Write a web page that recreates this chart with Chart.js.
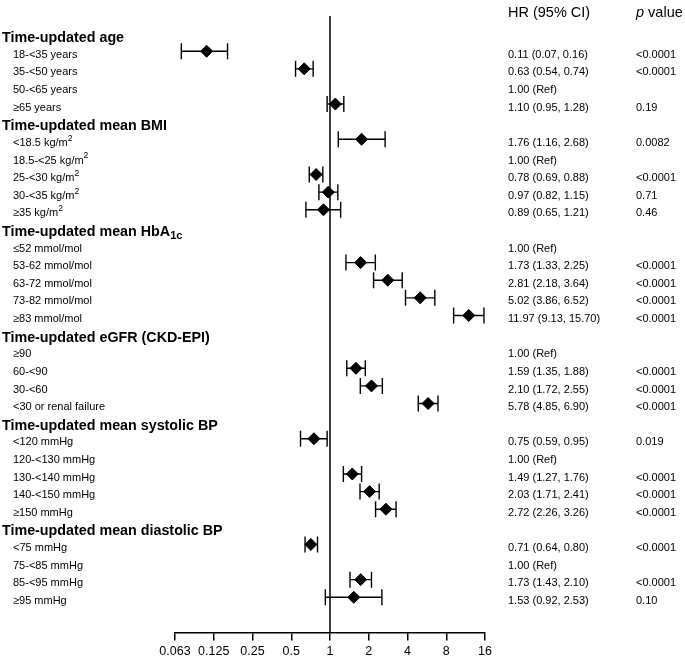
<!DOCTYPE html>
<html><head><meta charset="utf-8">
<script src="https://cdn.jsdelivr.net/npm/chart.js@4"></script>
<style>html,body{margin:0;padding:0;background:#fff}canvas{display:block}</style>
</head><body>
<canvas id="c" width="685" height="657"></canvas>
<script>
const groupTitles = ['Time-updated age', 'Time-updated mean BMI', 'Time-updated mean HbA_{1c}', 'Time-updated eGFR (CKD-EPI)', 'Time-updated mean systolic BP', 'Time-updated mean diastolic BP'];
const groupSizes = [4, 5, 5, 4, 5, 4];
const categories = ['18-<35 years', '35-<50 years', '50-<65 years', '≥65 years',
  '<18.5 kg/m^{2}', '18.5-<25 kg/m^{2}', '25-<30 kg/m^{2}', '30-<35 kg/m^{2}', '≥35 kg/m^{2}',
  '≤52 mmol/mol', '53-62 mmol/mol', '63-72 mmol/mol', '73-82 mmol/mol', '≥83 mmol/mol',
  '≥90', '60-<90', '30-<60', '<30 or renal failure',
  '<120 mmHg', '120-<130 mmHg', '130-<140 mmHg', '140-<150 mmHg', '≥150 mmHg',
  '<75 mmHg', '75-<85 mmHg', '85-<95 mmHg', '≥95 mmHg'];
const hr = [0.11, 0.63, 1.00, 1.10,
  1.76, 1.00, 0.78, 0.97, 0.89,
  1.00, 1.73, 2.81, 5.02, 11.97,
  1.00, 1.59, 2.10, 5.78,
  0.75, 1.00, 1.49, 2.03, 2.72,
  0.71, 1.00, 1.73, 1.53];
const ciLow = [0.07, 0.54, null, 0.95,
  1.16, null, 0.69, 0.82, 0.65,
  null, 1.33, 2.18, 3.86, 9.13,
  null, 1.35, 1.72, 4.85,
  0.59, null, 1.27, 1.71, 2.26,
  0.64, null, 1.43, 0.92];
const ciHigh = [0.16, 0.74, null, 1.28,
  2.68, null, 0.88, 1.15, 1.21,
  null, 2.25, 3.64, 6.52, 15.70,
  null, 1.88, 2.55, 6.90,
  0.95, null, 1.76, 2.41, 3.26,
  0.80, null, 2.10, 2.53];
const pValues = ['<0.0001', '<0.0001', '', '0.19',
  '0.0082', '', '<0.0001', '0.71', '0.46',
  '', '<0.0001', '<0.0001', '<0.0001', '<0.0001',
  '', '<0.0001', '<0.0001', '<0.0001',
  '0.019', '', '<0.0001', '<0.0001', '<0.0001',
  '<0.0001', '', '<0.0001', '0.10'];
const tickValues = [0.0625, 0.125, 0.25, 0.5, 1, 2, 4, 8, 16];
const tickLabels = ['0.063', '0.125', '0.25', '0.5', '1', '2', '4', '8', '16'];

const FONT = '"Liberation Sans", Arial, Helvetica, sans-serif';

// row layout: group header followed by its categories
const rows = [];
let k = 0;
groupTitles.forEach((g, gi) => {
  rows.push({ type: 'head', text: g });
  for (let j = 0; j < groupSizes[gi]; j++) { rows.push({ type: 'item', text: categories[k], idx: k }); k++; }
});

const pointData = [], barData = [];
rows.forEach((r, ri) => {
  if (r.type === 'item' && ciLow[r.idx] != null) {
    pointData.push({ x: hr[r.idx], y: ri });
    barData.push({ x: ciLow[r.idx], y: ri }, { x: ciHigh[r.idx], y: ri }, { x: 1, y: null });
  }
});
const hrText = i => ciLow[i] == null ? hr[i].toFixed(2) + ' (Ref)'
  : hr[i].toFixed(2) + ' (' + ciLow[i].toFixed(2) + ', ' + ciHigh[i].toFixed(2) + ')';

function drawRich(ctx, text, x, y, weight, size) {
  const parts = [];
  const re = /([_^])\{([^}]*)\}/g;
  let last = 0, m;
  while ((m = re.exec(text))) {
    if (m.index > last) parts.push({ t: text.slice(last, m.index), s: 0 });
    parts.push({ t: m[2], s: m[1] === '^' ? 1 : -1 });
    last = re.lastIndex;
  }
  if (last < text.length) parts.push({ t: text.slice(last), s: 0 });
  let cx = x;
  parts.forEach(p => {
    const fs = p.s === 0 ? size : size * 0.78;
    ctx.font = weight + ' ' + fs + 'px ' + FONT;
    const dy = p.s === 1 ? -size * 0.4 : (p.s === -1 ? size * 0.3 : 0);
    ctx.fillText(p.t, cx, y + dy);
    cx += ctx.measureText(p.t).width;
  });
}

const textPlugin = {
  id: 'forestText',
  afterDraw(chart) {
    const ctx = chart.ctx, ys = chart.scales.y;
    ctx.save();
    ctx.fillStyle = '#000';
    ctx.textBaseline = 'middle';
    ctx.textAlign = 'left';
    rows.forEach((r, ri) => {
      const py = ys.getPixelForValue(ri);
      if (r.type === 'head') {
        drawRich(ctx, r.text, 2, py + 4.5, 'bold', 14.3);
      } else {
        const y = py + 3.6;
        drawRich(ctx, r.text, 13, y, '', 11);
        ctx.font = '11px ' + FONT;
        ctx.fillText(hrText(r.idx), 508, y);
        ctx.fillText(pValues[r.idx], 636, y);
      }
    });
    ctx.font = '14.5px ' + FONT;
    ctx.fillText('HR (95% CI)', 508, 12.5);
    ctx.font = 'italic 14.5px ' + FONT;
    ctx.fillText('p', 636, 12.5);
    const pw = ctx.measureText('p').width;
    ctx.font = '14.5px ' + FONT;
    ctx.fillText(' value', 636 + pw, 12.5);
    ctx.restore();
  }
};

new Chart(document.getElementById('c'), {
  type: 'scatter',
  data: {
    datasets: [
      {
        type: 'line', data: [{ x: 1, y: -1 }, { x: 1, y: 34 }],
        borderColor: '#000', borderWidth: 1.5, pointRadius: 0, showLine: true
      },
      {
        type: 'line', data: barData, spanGaps: false, showLine: true,
        borderColor: '#000', borderWidth: 1.4,
        pointStyle: 'line', pointRotation: 90, pointRadius: 8,
        pointBorderColor: '#000', pointBorderWidth: 1.4
      },
      {
        data: pointData, pointStyle: 'rectRot', pointRadius: 6,
        backgroundColor: '#000', borderColor: '#000', pointBorderWidth: 1
      }
    ]
  },
  options: {
    responsive: false, animation: false, devicePixelRatio: 1,
    layout: { padding: { left: 175, right: 200, top: 16, bottom: 0 } },
    plugins: { legend: { display: false }, tooltip: { enabled: false } },
    scales: {
      x: {
        type: 'logarithmic', min: 0.0625, max: 16,
        afterBuildTicks: s => { s.ticks = tickValues.map(v => ({ value: v })); },
        afterFit: s => { s.height = 24.5; },
        ticks: {
          autoSkip: false, maxRotation: 0, padding: 4, color: '#000',
          font: { size: 12.5, family: FONT },
          callback: (v, i) => tickLabels[i]
        },
        grid: { drawOnChartArea: false, drawTicks: true, tickLength: 8, color: '#000', lineWidth: 1.5 },
        border: { display: true, color: '#000', width: 1.5 }
      },
      y: { type: 'linear', display: false, reverse: true, min: -1, max: 34 }
    }
  },
  plugins: [textPlugin]
});
</script>
</body></html>
